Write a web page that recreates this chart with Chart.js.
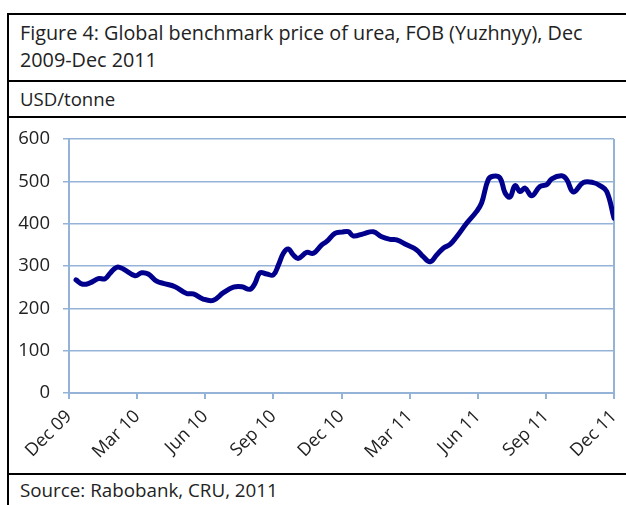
<!DOCTYPE html>
<html>
<head>
<meta charset="utf-8">
<script src="https://cdn.jsdelivr.net/npm/chart.js@4"></script>
<style>
  html, body { margin: 0; padding: 0; background: #fff; width: 626px; height: 505px; overflow: hidden; }
  body { position: relative; font-family: "Open Sans", "Noto Sans", sans-serif; color: #222; }
  .hl { position: absolute; left: 7px; width: 640px; height: 2px; background: #000; z-index: 3; }
  .vl { position: absolute; left: 7px; top: 14px; width: 2px; height: 500px; background: #000; z-index: 3; }
  .txt { position: absolute; left: 20px; white-space: nowrap; z-index: 2; }
  #title { top: 19px; font-size: 19.8px; line-height: 27px; }
  #unit { top: 87px; font-size: 18.6px; line-height: 24px; }
  #source { top: 478px; font-size: 18.8px; line-height: 24px; }
  #wrap { position: absolute; left: 0; top: 119px; width: 626px; height: 355px; z-index: 1; }
</style>
</head>
<body>
<div class="hl" style="top:13px"></div>
<div class="hl" style="top:80px"></div>
<div class="hl" style="top:116px"></div>
<div class="hl" style="top:473px"></div>
<div class="vl"></div>
<div class="txt" id="title">Figure 4: Global benchmark price of urea, FOB (Yuzhnyy), Dec<br>2009-Dec 2011</div>
<div class="txt" id="unit">USD/tonne</div>
<div class="txt" id="source">Source: Rabobank, CRU, 2011</div>
<div id="wrap"><canvas id="c" width="626" height="355"></canvas></div>
<script>
// Months elapsed since Dec 2009
const months = [0.31,0.60,0.92,1.29,1.59,1.81,2.10,2.39,2.91,3.20,3.49,3.86,4.15,4.67,5.18,5.47,5.91,6.35,6.80,7.24,7.61,7.97,8.19,8.41,8.71,9.00,9.22,9.44,9.66,9.88,10.10,10.47,10.76,11.13,11.35,11.71,12.01,12.30,12.52,12.96,13.40,13.77,14.14,14.43,14.87,15.31,15.60,15.90,16.19,16.48,16.78,17.07,17.51,17.95,18.17,18.46,18.68,18.98,19.20,19.42,19.64,19.86,20.08,20.38,20.74,21.04,21.26,21.70,21.92,22.21,22.65,23.09,23.38,23.68,24.00];
// Urea price, USD/tonne
const prices = [267,257,260,270,270,283,297,293,277,284,281,264,259,251,235,234,222,219,237,250,251,245,259,284,281,279,302,330,340,326,318,332,330,350,358,377,380,381,371,376,381,369,363,362,350,338,322,310,326,342,351,369,401,429,449,504,512,508,473,463,490,476,484,466,488,492,506,513,504,475,497,497,490,476,413];
const tickLabels = ['Dec 09','Mar 10','Jun 10','Sep 10','Dec 10','Mar 11','Jun 11','Sep 11','Dec 11'];
const yTicks = [0,100,200,300,400,500,600];

const points = months.map((m, i) => ({ x: m, y: prices[i] }));
const gridBlue = '#95b3d7';

new Chart(document.getElementById('c'), {
  type: 'line',
  data: {
    datasets: [{
      data: points,
      borderColor: '#00008c',
      borderWidth: 5,
      pointRadius: 0,
      tension: 0.4,
      borderCapStyle: 'round',
      borderJoinStyle: 'round',
      fill: false
    }]
  },
  options: {
    responsive: false,
    animation: false,
    events: [],
    layout: { padding: { top: 20, right: 12, left: 0, bottom: 0 } },
    plugins: { legend: { display: false }, tooltip: { enabled: false } },
    scales: {
      x: {
        type: 'linear',
        min: 0,
        max: 24,
        afterBuildTicks: (s) => { s.ticks = tickLabels.map((_, i) => ({ value: i * 3 })); },
        afterFit: (s) => { s.height = 81; s.paddingLeft = 0; s.paddingRight = 0; },
        ticks: {
          autoSkip: false,
          minRotation: 45,
          maxRotation: 45,
          padding: 7,
          color: '#222',
          font: { family: '"Open Sans", sans-serif', size: 18 },
          callback: (v) => tickLabels[Math.round(v / 3)]
        },
        grid: {
          drawOnChartArea: true,
          color: (ctx) => (ctx.index === tickLabels.length - 1 ? gridBlue : 'rgba(0,0,0,0)'),
          tickColor: gridBlue,
          tickLength: 6,
          lineWidth: 2
        },
        border: { color: gridBlue, width: 2 }
      },
      y: {
        min: 0,
        max: 600,
        afterBuildTicks: (s) => { s.ticks = yTicks.map(v => ({ value: v })); },
        afterFit: (s) => { s.width = 69; s.paddingTop = 0; s.paddingBottom = 0; },
        ticks: {
          padding: 13,
          color: '#222',
          font: { family: '"Open Sans", sans-serif', size: 18.5 }
        },
        grid: { color: gridBlue, lineWidth: 1.5, tickLength: 6 },
        border: { color: gridBlue, width: 2 }
      }
    }
  }
});
</script>
</body>
</html>
